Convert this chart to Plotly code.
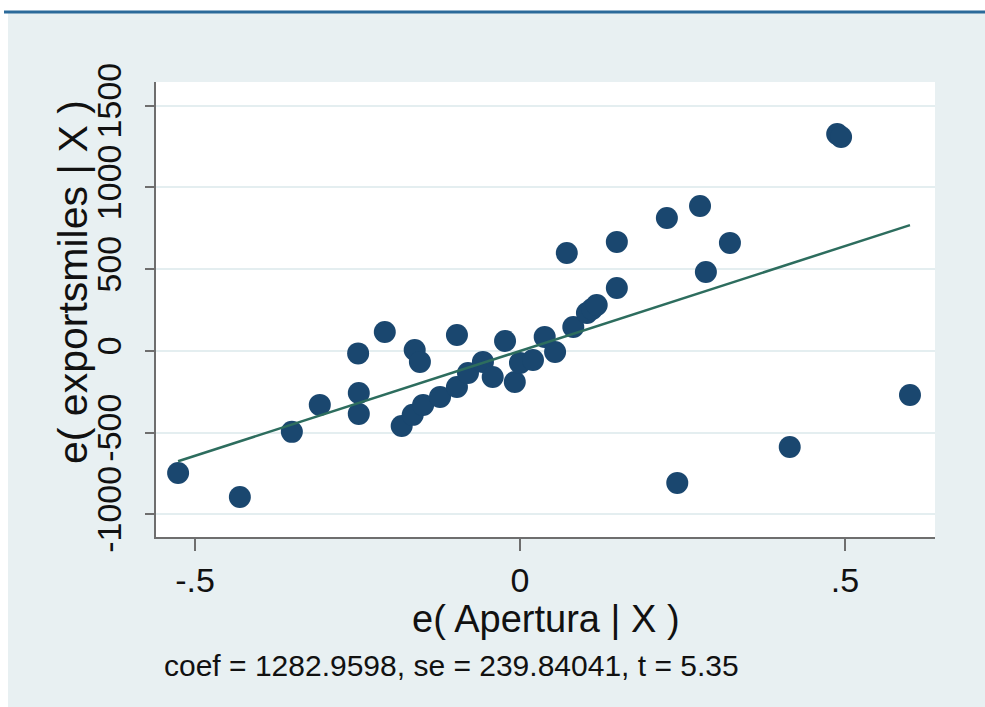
import plotly.graph_objects as go

# Added-variable plot: residuals of exportsmiles vs residuals of Apertura
e_apertura = [
    -0.526, -0.431, -0.351, -0.308, -0.249, -0.248, -0.248, -0.208, -0.162, -0.154,
    -0.097, -0.182, -0.165, -0.149, -0.123, -0.097, -0.080, -0.057, -0.042, -0.023,
    -0.008, 0.000, 0.020, 0.038, 0.054, 0.082, 0.103, 0.111, 0.118, 0.149,
    0.072, 0.149, 0.226, 0.277, 0.323, 0.286, 0.488, 0.494, 0.242, 0.415, 0.600,
]
e_exports = [
    -746, -893, -495, -330, -15, -257, -385, 116, 6, -67,
    98, -459, -391, -330, -281, -220, -135, -67, -159, 61,
    -190, -73, -55, 86, -6, 147, 232, 257, 281, 385,
    599, 667, 813, 887, 661, 483, 1327, 1309, -807, -587, -269,
]

coef = 1282.9598
se = 239.84041
tstat = 5.35

y_ticks = [-1000, -500, 0, 500, 1000, 1500]
y_tick_labels = ["-1000", "-500", "0", "500", "1000", "1500"]
x_ticks = [-0.5, 0, 0.5]
x_tick_labels = ["-.5", "0", ".5"]

# fitted line through the origin, spanning the observed x range
x_fit = [min(e_apertura), max(e_apertura)]
y_fit = [coef * v for v in x_fit]

NAVY = "#1a476f"
FIT = "#2d6d5e"
BG = "#e8f0f2"
FONT = "Liberation Sans, Arial, sans-serif"

W, H = 985, 707
L, R, T, B = 156, 935, 82, 537  # plot area in pixels


def fx(px):
    return (px - L) / (R - L)


def fy(py):
    return (B - py) / (B - T)


fig = go.Figure()
fig.add_trace(go.Scatter(
    x=e_apertura, y=e_exports, mode="markers",
    marker=dict(color=NAVY, size=22, line=dict(width=0)),
    showlegend=False, hoverinfo="x+y",
))
fig.add_trace(go.Scatter(
    x=x_fit, y=y_fit, mode="lines",
    line=dict(color=FIT, width=2.5),
    showlegend=False, hoverinfo="skip",
))

fig.update_layout(
    width=W, height=H, autosize=False,
    margin=dict(l=L, r=W - R, t=T, b=H - B, pad=0),
    paper_bgcolor=BG, plot_bgcolor="white",
    font=dict(family=FONT, color="#111111"),
    xaxis=dict(
        range=[-0.56, 0.6385], tickmode="array", tickvals=x_ticks, ticktext=x_tick_labels,
        showgrid=False, zeroline=False, showline=True, linecolor="#6e6e6e", linewidth=2,
        ticks="outside", ticklen=12, tickwidth=2, tickcolor="#6e6e6e",
        tickfont=dict(size=34), ticklabelstandoff=0,
    ),
    yaxis=dict(
        range=[-1138, 1645], tickmode="array", tickvals=y_ticks, ticktext=y_tick_labels,
        showgrid=True, gridcolor="#e4eef0", gridwidth=2, zeroline=False,
        showline=True, linecolor="#6e6e6e", linewidth=2,
        ticks="outside", ticklen=9, tickwidth=2, tickcolor="#6e6e6e",
        tickfont=dict(size=34), tickangle=-90, ticklabelstandoff=10,
    ),
    shapes=[
        # white strip along the top and left edges
        dict(type="rect", xref="paper", yref="paper", x0=fx(-5), x1=fx(W + 5),
             y0=fy(11), y1=fy(-5), fillcolor="white", line=dict(width=0), layer="below"),
        dict(type="rect", xref="paper", yref="paper", x0=fx(-5), x1=fx(8),
             y0=fy(H + 5), y1=fy(-5), fillcolor="white", line=dict(width=0), layer="below"),
        # blue rule at the top of the window
        dict(type="line", xref="paper", yref="paper", x0=fx(4), x1=fx(W + 5),
             y0=fy(12), y1=fy(12), line=dict(color="#2b6a9a", width=3)),
    ],
    annotations=[
        dict(text="e( exportsmiles | X )", xref="paper", yref="paper",
             x=fx(73), y=fy(282), textangle=-90, showarrow=False,
             font=dict(size=41), xanchor="center", yanchor="middle"),
        dict(text="e( Apertura | X )", xref="paper", yref="paper",
             x=fx(546), y=fy(619), showarrow=False,
             font=dict(size=38), xanchor="center", yanchor="middle"),
        dict(text=f"coef = {coef:.4f}, se = {se:.5f}, t = {tstat:.2f}",
             xref="paper", yref="paper", x=fx(162), y=fy(665), showarrow=False,
             font=dict(size=30), xanchor="left", yanchor="middle"),
    ],
)

fig.write_html("out.html")
